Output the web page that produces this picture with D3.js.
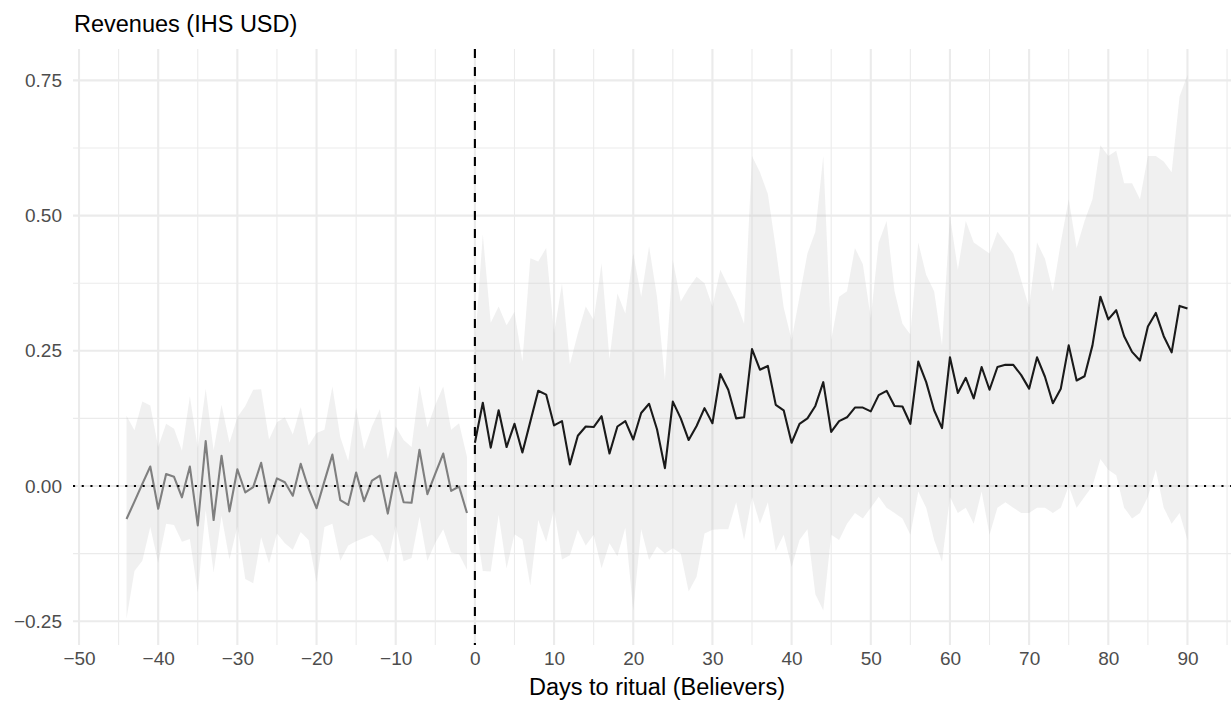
<!DOCTYPE html>
<html>
<head>
<meta charset="utf-8">
<script src="https://cdn.jsdelivr.net/npm/d3@7"></script>
<style>
  body { margin: 0; background: #fff; }
  svg { display: block; font-family: "Liberation Sans", Arial, sans-serif; }
  .tick text { fill: #4d4d4d; font-size: 19px; }
</style>
</head>
<body>
<div id="chart-container"></div>
<script>
// days to ritual
const PRE_DAYS = d3.range(-44, 0);
const POST_DAYS = d3.range(0, 91);

// estimates before the ritual (-44 .. -1)
const preEstimate = [
  -0.061, -0.029, 0.004, 0.036, -0.042, 0.022, 0.017, -0.021, 0.036, -0.073,
  0.083, -0.063, 0.056, -0.047, 0.031, -0.012, -0.002, 0.043, -0.031, 0.014,
  0.007, -0.018, 0.041, -0.005, -0.041, 0.009, 0.058, -0.026, -0.035, 0.025,
  -0.028, 0.010, 0.019, -0.051, 0.025, -0.030, -0.031, 0.067, -0.015, 0.023,
  0.060, -0.009, -0.001, -0.050
];
const preUpper = [
  0.130, 0.103, 0.156, 0.149, 0.072, 0.115, 0.106, 0.065, 0.166, 0.070,
  0.180, 0.066, 0.150, 0.080, 0.127, 0.148, 0.178, 0.179, 0.086, 0.118,
  0.127, 0.095, 0.146, 0.075, 0.098, 0.104, 0.184, 0.090, 0.046, 0.144,
  0.068, 0.110, 0.142, 0.050, 0.110, 0.085, 0.072, 0.186, 0.108, 0.150,
  0.184, 0.104, 0.116, 0.054
];
const preLower = [
  -0.245, -0.157, -0.138, -0.076, -0.142, -0.070, -0.072, -0.103, -0.098, -0.197,
  -0.045, -0.160, -0.055, -0.136, -0.075, -0.172, -0.180, -0.095, -0.143, -0.088,
  -0.106, -0.118, -0.085, -0.100, -0.178, -0.076, -0.070, -0.138, -0.110, -0.102,
  -0.096, -0.090, -0.105, -0.141, -0.073, -0.139, -0.133, -0.057, -0.138, -0.105,
  -0.080, -0.123, -0.126, -0.155
];

// estimates from the ritual on (0 .. 90)
const postEstimate = [
  0.080, 0.154, 0.071, 0.140, 0.072, 0.115, 0.062, 0.119, 0.176, 0.169,
  0.112, 0.120, 0.040, 0.093, 0.110, 0.109, 0.129, 0.060, 0.110, 0.120,
  0.086, 0.135, 0.152, 0.105, 0.033, 0.156, 0.125, 0.085, 0.111, 0.144,
  0.116, 0.207, 0.178, 0.125, 0.127, 0.253, 0.215, 0.222, 0.150, 0.140,
  0.080, 0.115, 0.125, 0.148, 0.192, 0.100, 0.120, 0.127, 0.145, 0.145,
  0.138, 0.168, 0.176, 0.148, 0.147, 0.115, 0.230, 0.192, 0.140, 0.107,
  0.238, 0.172, 0.200, 0.162, 0.220, 0.178, 0.220, 0.224, 0.224, 0.205,
  0.180, 0.238, 0.202, 0.153, 0.180, 0.260, 0.195, 0.203, 0.260, 0.350,
  0.308, 0.325, 0.277, 0.248, 0.232, 0.295, 0.320, 0.277, 0.247, 0.333,
  0.328
];
const postUpper = [
  0.260, 0.465, 0.302, 0.332, 0.297, 0.322, 0.230, 0.421, 0.415, 0.440,
  0.282, 0.375, 0.225, 0.282, 0.332, 0.307, 0.412, 0.235, 0.356, 0.319,
  0.430, 0.350, 0.443, 0.350, 0.196, 0.418, 0.341, 0.366, 0.387, 0.375,
  0.332, 0.400, 0.370, 0.340, 0.300, 0.610, 0.580, 0.540, 0.440, 0.330,
  0.270, 0.350, 0.430, 0.470, 0.610, 0.270, 0.350, 0.360, 0.440, 0.410,
  0.310, 0.450, 0.490, 0.360, 0.300, 0.280, 0.450, 0.390, 0.360, 0.260,
  0.500, 0.400, 0.490, 0.450, 0.440, 0.430, 0.470, 0.450, 0.430, 0.380,
  0.330, 0.450, 0.420, 0.360, 0.450, 0.530, 0.440, 0.490, 0.530, 0.630,
  0.610, 0.620, 0.560, 0.560, 0.530, 0.610, 0.610, 0.600, 0.580, 0.720,
  0.760
];
const postLower = [
  -0.060, -0.157, -0.158, -0.053, -0.152, -0.089, -0.099, -0.184, -0.063, -0.103,
  -0.043, -0.136, -0.128, -0.081, -0.110, -0.090, -0.152, -0.106, -0.130, -0.077,
  -0.230, -0.080, -0.137, -0.112, -0.125, -0.115, -0.125, -0.195, -0.168, -0.088,
  -0.081, -0.080, -0.080, -0.030, -0.100, -0.020, -0.070, -0.030, -0.120, -0.090,
  -0.150, -0.100, -0.080, -0.200, -0.230, -0.090, -0.100, -0.070, -0.050, -0.060,
  -0.040, -0.020, -0.040, -0.050, -0.060, -0.090, -0.010, -0.040, -0.100, -0.140,
  -0.020, -0.050, -0.040, -0.070, -0.010, -0.090, -0.040, -0.030, -0.040, -0.050,
  -0.050, -0.040, -0.040, -0.050, -0.040, 0.000, -0.040, -0.020, 0.000, 0.050,
  0.030, 0.020, -0.040, -0.060, -0.050, -0.020, 0.030, -0.040, -0.070, -0.050,
  -0.100
];

const X_TICKS = d3.range(-50, 91, 10);
const X_MINOR = d3.range(-45, 96, 10);
const Y_TICKS = [-0.25, 0, 0.25, 0.5, 0.75];
const Y_MINOR = [-0.125, 0.125, 0.375, 0.625];

const width = 1231,
  height = 710;
const panel = {left: 73, right: 1241, top: 49, bottom: 645};

const xScale = d3.scaleLinear()
  .domain([-50.76, 96.76])
  .range([panel.left, panel.right]);
const yScale = d3.scaleLinear()
  .domain([-0.294, 0.808])
  .range([panel.bottom, panel.top]);

const svg = d3.select('div#chart-container')
  .append('svg')
  .attr('width', width)
  .attr('height', height);

// grid lines (minor first, then major)
const grid = svg.append('g').attr('class', 'grid');
grid.selectAll('line.xminor')
  .data(X_MINOR)
  .enter().append('line')
  .attr('x1', xScale).attr('x2', xScale)
  .attr('y1', panel.top).attr('y2', panel.bottom)
  .attr('stroke', '#ebebeb').attr('stroke-width', 1.1);
grid.selectAll('line.yminor')
  .data(Y_MINOR)
  .enter().append('line')
  .attr('x1', panel.left).attr('x2', panel.right)
  .attr('y1', yScale).attr('y2', yScale)
  .attr('stroke', '#ebebeb').attr('stroke-width', 1.1);
grid.selectAll('line.xmajor')
  .data(X_TICKS)
  .enter().append('line')
  .attr('x1', xScale).attr('x2', xScale)
  .attr('y1', panel.top).attr('y2', panel.bottom)
  .attr('stroke', '#ebebeb').attr('stroke-width', 2.1);
grid.selectAll('line.ymajor')
  .data(Y_TICKS)
  .enter().append('line')
  .attr('x1', panel.left).attr('x2', panel.right)
  .attr('y1', yScale).attr('y2', yScale)
  .attr('stroke', '#ebebeb').attr('stroke-width', 2.1);

// confidence ribbons
const ribbon = (days, lo, hi) => {
  const areaGen = d3.area()
    .x((_, i) => xScale(days[i]))
    .y0((_, i) => yScale(lo[i]))
    .y1((_, i) => yScale(hi[i]));
  svg.append('path')
    .datum(days)
    .attr('d', areaGen)
    .attr('fill', '#b3b3b3')
    .attr('fill-opacity', 0.2);
};
ribbon(PRE_DAYS, preLower, preUpper);
ribbon(POST_DAYS, postLower, postUpper);

// estimate lines
const drawLine = (days, vals, colour) => {
  const lineGen = d3.line()
    .x((_, i) => xScale(days[i]))
    .y(d => yScale(d));
  svg.append('path')
    .datum(vals)
    .attr('d', lineGen)
    .attr('fill', 'none')
    .attr('stroke', colour)
    .attr('stroke-width', 2.1)
    .attr('stroke-linejoin', 'round');
};
drawLine(PRE_DAYS, preEstimate, '#7f7f7f');
drawLine(POST_DAYS, postEstimate, '#1a1a1a');

// reference lines: zero effect (dotted), ritual day (dashed)
svg.append('line')
  .attr('x1', panel.left).attr('x2', panel.right)
  .attr('y1', yScale(0)).attr('y2', yScale(0))
  .attr('stroke', '#000').attr('stroke-width', 2.1)
  .attr('stroke-dasharray', '2.1 6.6');
svg.append('line')
  .attr('x1', xScale(0)).attr('x2', xScale(0))
  .attr('y1', panel.top).attr('y2', panel.bottom)
  .attr('stroke', '#000').attr('stroke-width', 2.1)
  .attr('stroke-dasharray', '9 9');

// axes, ggplot minimal style: no ticks, no domain
const fmtX = d => d < 0 ? '\u2212' + Math.abs(d) : String(d);
const fmtY = d => d < 0 ? '\u2212' + d3.format('.2f')(-d) : d3.format('.2f')(d);

svg.append('g')
  .attr('class', 'x axis')
  .attr('transform', `translate(0, ${panel.bottom})`)
  .call(d3.axisBottom(xScale).tickValues(X_TICKS).tickFormat(fmtX).tickSize(0).tickPadding(7))
  .call(g => g.select('.domain').remove());

svg.append('g')
  .attr('class', 'y axis')
  .attr('transform', `translate(${panel.left}, 0)`)
  .call(d3.axisLeft(yScale).tickValues(Y_TICKS).tickFormat(fmtY).tickSize(0).tickPadding(11))
  .call(g => g.select('.domain').remove());

svg.selectAll('.tick text').attr('font-family', null).attr('font-size', null);

// titles
svg.append('text')
  .attr('x', panel.left + 1)
  .attr('y', 32)
  .attr('font-size', 23.5)
  .attr('fill', '#000')
  .text('Revenues (IHS USD)');

svg.append('text')
  .attr('x', (panel.left + panel.right) / 2)
  .attr('y', 695)
  .attr('text-anchor', 'middle')
  .attr('font-size', 23.5)
  .attr('fill', '#000')
  .text('Days to ritual (Believers)');
</script>
</body>
</html>
